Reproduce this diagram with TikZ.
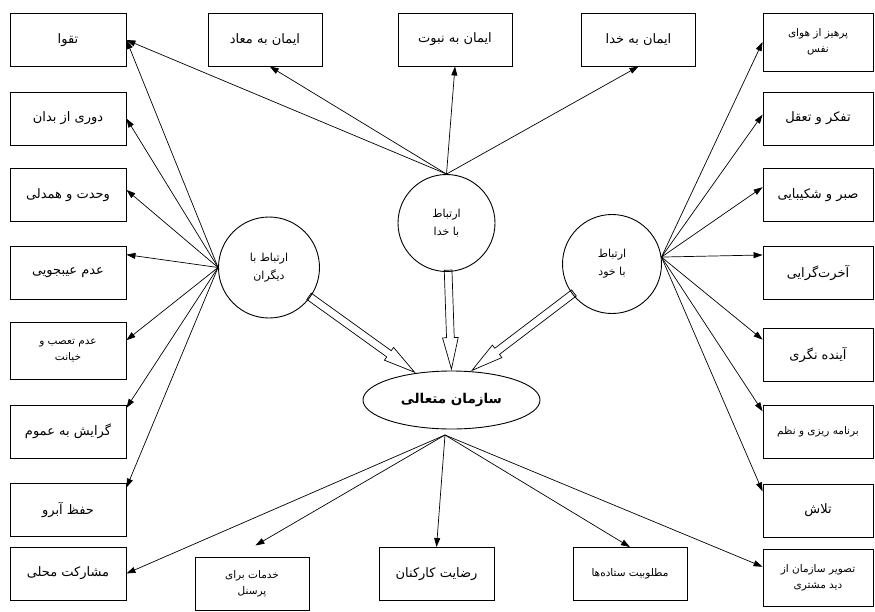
\documentclass[tikz,border=0pt]{standalone}
\usepackage{fontspec}
\usepackage{tikz}
\usetikzlibrary{arrows.meta,shapes.geometric,shapes.arrows}
\newfontfamily\farsi[Script=Arabic]{DejaVu Sans}
\TeXXeTstate=1
\newcommand{\fa}[1]{\beginR #1\endR}
\newcommand{\bigfa}{\farsi\fontsize{13}{15}\selectfont}
\newcommand{\smallfa}{\farsi\fontsize{10.5}{12}\selectfont}
\tikzset{itembox/.style={draw, line width=0.9pt, minimum width=116pt,
  minimum height=53pt, inner sep=2pt, align=center, font=\bigfa}}
\tikzset{twoline/.style={font=\smallfa}}
\tikzset{relcircle/.style={draw, circle, line width=0.9pt, inner sep=0pt,
  align=center, font=\farsi\fontsize{11}{13}\selectfont}}
\tikzset{lnk/.style={-{Triangle[length=9pt,width=6pt]}, line width=0.7pt}}
\tikzset{hollowarrow/.style={single arrow, draw, line width=0.7pt, inner xsep=0pt,
  inner ysep=3.5pt, sloped, allow upside down, pos=1, anchor=tip,
  single arrow head extend=4pt, single arrow tip angle=28,
  single arrow head indent=0pt}}

\begin{document}
\begin{tikzpicture}[x=1pt, y=-1pt]
\useasboundingbox (0,0) rectangle (875,611);

\node[itembox] (l1) at (68,40) {\fa{تقوا}};
\node[itembox] (l2) at (68,118.5) {\fa{دوری از بدان}};
\node[itembox] (l3) at (68,195) {\fa{وحدت و همدلی}};
\node[itembox] (l4) at (68,272.5) {\fa{عدم عیبجویی}};
\node[itembox, twoline, minimum height=57pt] (l5) at (68,350.5) {\fa{عدم تعصب و}\\[4pt]\fa{خیانت}};
\node[itembox] (l6) at (68,431.5) {\fa{گرایش به عموم}};
\node[itembox] (l7) at (68,510) {\fa{حفظ آبرو}};
\node[itembox] (l8) at (68,573.5) {\fa{مشارکت محلی}};

\node[itembox, twoline, minimum width=110pt, minimum height=58pt] (r1) at (818,42) {\fa{پرهیز از هوای}\\[4pt]\fa{نفس}};
\node[itembox, minimum width=110pt] (r2) at (818,118.5) {\fa{تفکر و تعقل}};
\node[itembox, minimum width=110pt] (r3) at (818,195) {\fa{صبر و شکیبایی}};
\node[itembox, minimum width=110pt] (r4) at (818,273) {\fa{آخرت‌گرایی}};
\node[itembox, minimum width=110pt] (r5) at (818,354.5) {\fa{آینده نگری}};
\node[itembox, twoline, minimum width=110pt] (r6) at (818,431.5) {\fa{برنامه ریزی و نظم}};
\node[itembox, minimum width=110pt] (r7) at (818,510.5) {\fa{تلاش}};
\node[itembox, twoline, minimum width=110pt, minimum height=57pt] (r8) at (818,577.5) {\fa{تصویر سازمان از}\\[4pt]\fa{دید مشتری}};

\node[itembox, minimum width=114pt] (t1) at (265,39.5) {\fa{ایمان به معاد}};
\node[itembox, minimum width=114pt] (t2) at (455,39.5) {\fa{ایمان به نبوت}};
\node[itembox, minimum width=114pt] (t3) at (638.5,39.5) {\fa{ایمان به خدا}};

\node[itembox, twoline, minimum width=114pt] (b1) at (252,583.5) {\fa{خدمات برای}\\[4pt]\fa{پرسنل}};
\node[itembox, minimum width=115pt] (b2) at (436.5,574) {\fa{رضایت کارکنان}};
\node[itembox, twoline, minimum width=114pt] (b3) at (630,574) {\fa{مطلوبیت ستاده‌ها}};

\node[relcircle, minimum size=101pt] (cl) at (269,267.5) {\fa{ارتباط با}\\[5pt]\fa{دیگران}};
\node[relcircle, minimum size=97pt] (cm) at (446.5,223) {\fa{ارتباط}\\[5pt]\fa{با خدا}};
\node[relcircle, minimum size=99pt] (cr) at (612,264) {\fa{ارتباط}\\[5pt]\fa{با خود}};

\node[draw, ellipse, line width=0.9pt, minimum width=177pt, minimum height=58pt, font=\farsi\fontsize{13.5}{16}\selectfont\bfseries] (org) at (451.5,400) {\fa{سازمان متعالی}};
\coordinate (bh) at (445,435);

\path (cl) -- node[hollowarrow, minimum height=130pt] {} (org.143);
\path (cm) -- node[hollowarrow, minimum height=99pt] {} (org.north);
\path (cr) -- node[hollowarrow, minimum height=128pt] {} (org.56);

\draw[lnk] (cm.north) -- (l1.east);
\draw[lnk] (cm.north) -- (t1.-80);
\draw[lnk] (cm.north) -- (t2.south);
\draw[lnk] (cm.north) -- (t3.south);

\draw[lnk] (cl.west) -- (l1.east);
\draw[lnk] (cl.west) -- (l2.east);
\draw[lnk] (cl.west) -- (l3.5);
\draw[lnk] (cl.west) -- (l4.17);
\draw[lnk] (cl.west) -- (l5.10);
\draw[lnk] (cl.west) -- (l6.22);
\draw[lnk] (cl.west) -- (l7.21);

\draw[lnk] (cr.8) -- (r1.west);
\draw[lnk] (cr.8) -- (r2.176);
\draw[lnk] (cr.8) -- (r3.172);
\draw[lnk] (cr.8) -- (r4.162);
\draw[lnk] (cr.8) -- (r5.165);
\draw[lnk] (cr.8) -- (r6.160);
\draw[lnk] (cr.8) -- (r7.161);

\draw[lnk] (bh) -- (l8.east);
\draw[lnk, shorten >=22pt] (bh) -- (b1.120);
\draw[lnk] (bh) -- (b2.north);
\draw[lnk] (bh) -- (b3.north);
\draw[lnk] (bh) -- (r8.169);
\end{tikzpicture}
\end{document}
